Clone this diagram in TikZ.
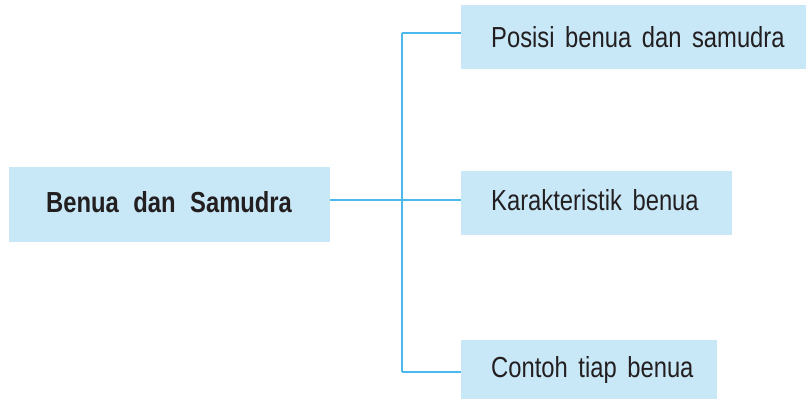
\documentclass[tikz,border=0pt]{standalone}
\usepackage{fontspec}
\setmainfont[FakeStretch=0.82,WordSpace=1.6]{Liberation Sans}
\newfontfamily\titlefont[FakeStretch=0.82,WordSpace=2.2]{Liberation Sans Bold}
\definecolor{boxblue}{HTML}{C8E8F8}
\definecolor{lineblue}{HTML}{4DB8EC}
\definecolor{txt}{HTML}{231F20}
\begin{document}
\begin{tikzpicture}[x=1bp,y=-1bp,
  box/.style={fill=boxblue,draw=none,inner sep=0pt,text=txt,font=\fontsize{29bp}{32bp}\selectfont},
  conn/.style={draw=lineblue,line width=1.2bp}]
\useasboundingbox (0,0) rectangle (806,399);
\node[box,minimum width=321bp,minimum height=75bp] (main) at (169.5,204.5) {};
\node[box,minimum width=345bp,minimum height=64bp] (b1) at (633.5,37) {};
\node[box,minimum width=271bp,minimum height=64bp] (b2) at (596.5,203) {};
\node[box,minimum width=256bp,minimum height=59bp] (b3) at (589,369.5) {};
\node[box,fill=none,anchor=west] (t0) at (46,202) {\titlefont Benua dan Samudra};
\node[box,fill=none,anchor=west] (t1) at (491,37) {Posisi benua dan samudra};
\node[box,fill=none,anchor=west] (t2) at (491,200) {Karakteristik benua};
\node[box,fill=none,anchor=west] (t3) at (491,370) {Contoh tiap benua};
\coordinate (j0) at (402,200);
\coordinate (j1) at (402,33);
\coordinate (j3) at (402,372);
\draw[conn] (j1) -- (j3);
\draw[conn] (main.east |- j0) -- (b2.west |- j0);
\draw[conn] (j1) -- (b1.west |- j1);
\draw[conn] (j3) -- (b3.west |- j3);
\end{tikzpicture}
\end{document}
